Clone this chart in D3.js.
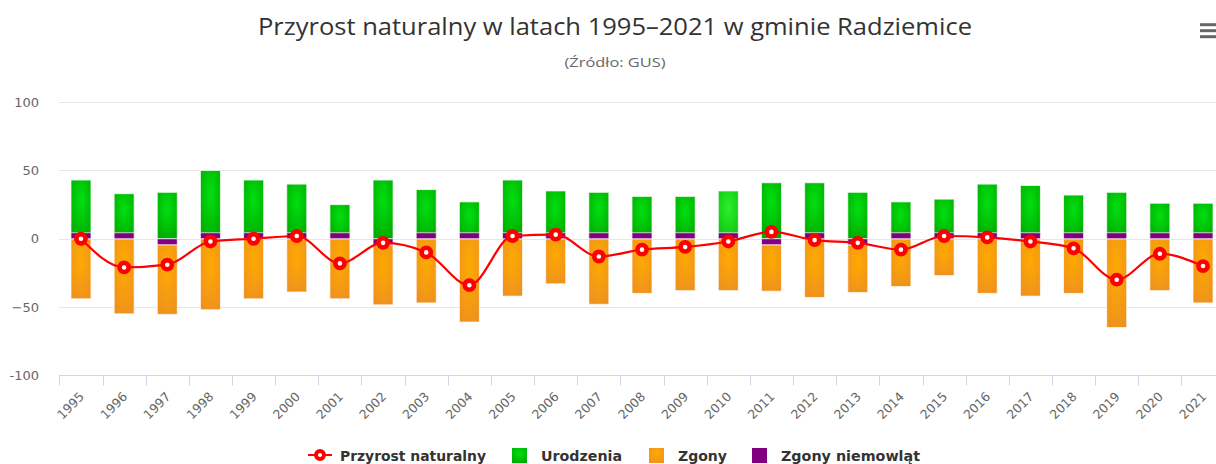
<!DOCTYPE html>
<html>
<head>
<meta charset="utf-8">
<script src="https://cdn.jsdelivr.net/npm/d3@7"></script>
<style>
  body { margin: 0; background: #fff; }
  svg { display: block; font-family: "DejaVu Sans", sans-serif; }
</style>
</head>
<body>
<div id="chart"></div>
<script>
const years = ["1995","1996","1997","1998","1999","2000","2001","2002","2003","2004","2005","2006","2007","2008","2009","2010","2011","2012","2013","2014","2015","2016","2017","2018","2019","2020","2021"];
const births = [43,33,34,50,43,40,25,43,36,27,43,35,34,31,31,35,41,41,34,27,29,40,39,32,34,26,26];
const deaths = [-44,-55,-51,-52,-44,-39,-44,-44,-47,-61,-42,-33,-48,-40,-38,-38,-34,-43,-35,-35,-27,-40,-42,-40,-65,-38,-47];
const infantDeaths = [0,0,-1,0,0,0,0,-1,0,0,0,0,0,0,0,0,-1,0,-1,0,0,0,0,0,0,0,0];
const naturalIncrease = [0,-21,-19,-2,0,2,-18,-3,-10,-34,2,3,-13,-8,-6,-2,5,-1,-3,-8,2,1,-2,-7,-30,-11,-20];
const yTicks = [-100,-50,0,50,100];
const yTickLabels = ["-100","\u221250","0","50","100"];
const legendNames = ["Przyrost naturalny","Urodzenia","Zgony","Zgony niemowląt"];
const hoverYear = "2010";

const width = 1216, height = 464;
const svg = d3.select("#chart").append("svg")
    .attr("width", width).attr("height", height);

// gradients
const defs = svg.append("defs");
function radial(id, c0, c1){
    const g = defs.append("radialGradient").attr("id", id)
        .attr("cx", "50%").attr("cy", "35%").attr("r", "75%");
    g.append("stop").attr("offset", "0%").attr("stop-color", c0);
    g.append("stop").attr("offset", "100%").attr("stop-color", c1);
}
radial("gGreen", "#00e010", "#00a800");
radial("gGreenHover", "#2af02a", "#10c010");
radial("gOrange", "#ffaa00", "#ee9020");

const x = d3.scaleBand().domain(years).range([59.4, 1224.6]);
const y = d3.scaleLinear().domain([-100, 100]).range([375.3, 102.2]);
const barW = 20, minLen = 6;
const cx = d => x(d) + x.bandwidth()/2;

// title
svg.append("text").attr("x", 615).attr("y", 35)
    .attr("text-anchor", "middle").attr("fill", "#333")
    .style("font-family", "'Open Sans', sans-serif").style("font-size", "23px")
    .attr("textLength", 714).attr("lengthAdjust", "spacingAndGlyphs")
    .text("Przyrost naturalny w latach 1995\u20132021 w gminie Radziemice");
svg.append("text").attr("x", 615).attr("y", 67)
    .attr("text-anchor", "middle").attr("fill", "#666")
    .style("font-family", "'Open Sans', sans-serif").style("font-size", "13px")
    .attr("textLength", 101).attr("lengthAdjust", "spacingAndGlyphs")
    .text("(Źródło: GUS)");

// menu icon
svg.append("g").selectAll("line").data([0,1,2]).enter().append("line")
    .attr("x1", 1200).attr("x2", 1216)
    .attr("y1", d => 24.7 + d*6).attr("y2", d => 24.7 + d*6)
    .attr("stroke", "#666").attr("stroke-width", 3);

// grid
svg.append("g").selectAll("line").data(yTicks.filter(t => t > -100)).enter().append("line")
    .attr("x1", 59).attr("x2", width)
    .attr("y1", d => Math.round(y(d)) + 0.5).attr("y2", d => Math.round(y(d)) + 0.5)
    .attr("stroke", "#e6e6e6");

// y labels
svg.append("g").selectAll("text").data(yTicks).enter().append("text")
    .attr("x", 39).attr("y", d => y(d) + 4.5)
    .attr("text-anchor", "end").attr("fill", "#666")
    .style("font-size", "13px")
    .text((d, i) => yTickLabels[i]);

// x axis
const xAxisY = Math.round(y(-100)) + 0.5;
svg.append("line").attr("x1", 59).attr("x2", width)
    .attr("y1", xAxisY).attr("y2", xAxisY).attr("stroke", "#ccd6eb");
svg.append("g").selectAll("line").data(years.concat(["end"])).enter().append("line")
    .attr("x1", (d, i) => Math.round(59.4 + i*x.step()) + 0.5)
    .attr("x2", (d, i) => Math.round(59.4 + i*x.step()) + 0.5)
    .attr("y1", xAxisY).attr("y2", xAxisY + 10)
    .attr("stroke", "#ccd6eb");
svg.append("g").selectAll("text").data(years).enter().append("text")
    .attr("transform", d => "translate(" + (cx(d) + 4) + "," + (xAxisY + 22) + ") rotate(-45)")
    .attr("text-anchor", "end").attr("fill", "#666")
    .style("font-size", "12.5px")
    .text(d => d);

// bars
const bars = svg.append("g");
bars.selectAll(".birth").data(years).enter().append("rect")
    .attr("x", d => cx(d) - barW/2)
    .attr("y", (d, i) => y(births[i]))
    .attr("width", barW)
    .attr("height", (d, i) => y(0) - y(births[i]))
    .attr("fill", d => d == hoverYear ? "url(#gGreenHover)" : "url(#gGreen)")
    .attr("stroke", "#fff").attr("stroke-opacity", 0.7);
bars.selectAll(".death").data(years).enter().append("rect")
    .attr("x", d => cx(d) - barW/2)
    .attr("y", (d, i) => y(0) + (infantDeaths[i] < 0 ? minLen : 0))
    .attr("width", barW)
    .attr("height", (d, i) => y(deaths[i]) - y(0))
    .attr("fill", "url(#gOrange)")
    .attr("stroke", "#fff").attr("stroke-opacity", 0.7);
bars.selectAll(".infant").data(years).enter().append("rect")
    .attr("x", d => cx(d) - barW/2)
    .attr("y", (d, i) => infantDeaths[i] < 0 ? y(0) : y(0) - minLen)
    .attr("width", barW)
    .attr("height", (d, i) => Math.max(minLen, y(infantDeaths[i]) - y(0)))
    .attr("fill", "#800080")
    .attr("stroke", "#fff").attr("stroke-opacity", 0.7);

// line
const line = d3.line()
    .x((d, i) => cx(years[i]))
    .y(d => y(d))
    .curve(d3.curveMonotoneX);
svg.append("path").datum(naturalIncrease)
    .attr("d", line).attr("fill", "none")
    .attr("stroke", "#ff0000").attr("stroke-width", 2.2);
svg.append("g").selectAll("circle").data(naturalIncrease).enter().append("circle")
    .attr("cx", (d, i) => cx(years[i])).attr("cy", d => y(d))
    .attr("r", 4.6).attr("fill", "#fff")
    .attr("stroke", "#ff0000").attr("stroke-width", 4.6);

// legend
const legendX = [308, 512, 649, 752];
const legendColors = [null, "url(#gGreen)", "url(#gOrange)", "#800080"];
const legendTextW = [146, 81, 49, 139];
const lg = svg.append("g").attr("transform", "translate(0,455)");
legendNames.forEach((name, i) => {
    const g = lg.append("g").attr("transform", "translate(" + legendX[i] + ",0)");
    if (i == 0) {
        g.append("line").attr("x1", 0).attr("x2", 24).attr("y1", 0).attr("y2", 0)
            .attr("stroke", "#ff0000").attr("stroke-width", 2);
        g.append("circle").attr("cx", 12).attr("cy", 0).attr("r", 4)
            .attr("fill", "#fff").attr("stroke", "#ff0000").attr("stroke-width", 4);
    } else {
        g.append("rect").attr("x", 0).attr("y", -7).attr("width", 15).attr("height", 15)
            .attr("fill", legendColors[i]);
    }
    g.append("text").attr("x", i == 0 ? 32 : 29).attr("y", 5.5)
        .attr("fill", "#333").style("font-weight", "bold").style("font-size", "14px")
        .attr("textLength", legendTextW[i]).attr("lengthAdjust", "spacingAndGlyphs")
        .text(name);
});
</script>
</body>
</html>
